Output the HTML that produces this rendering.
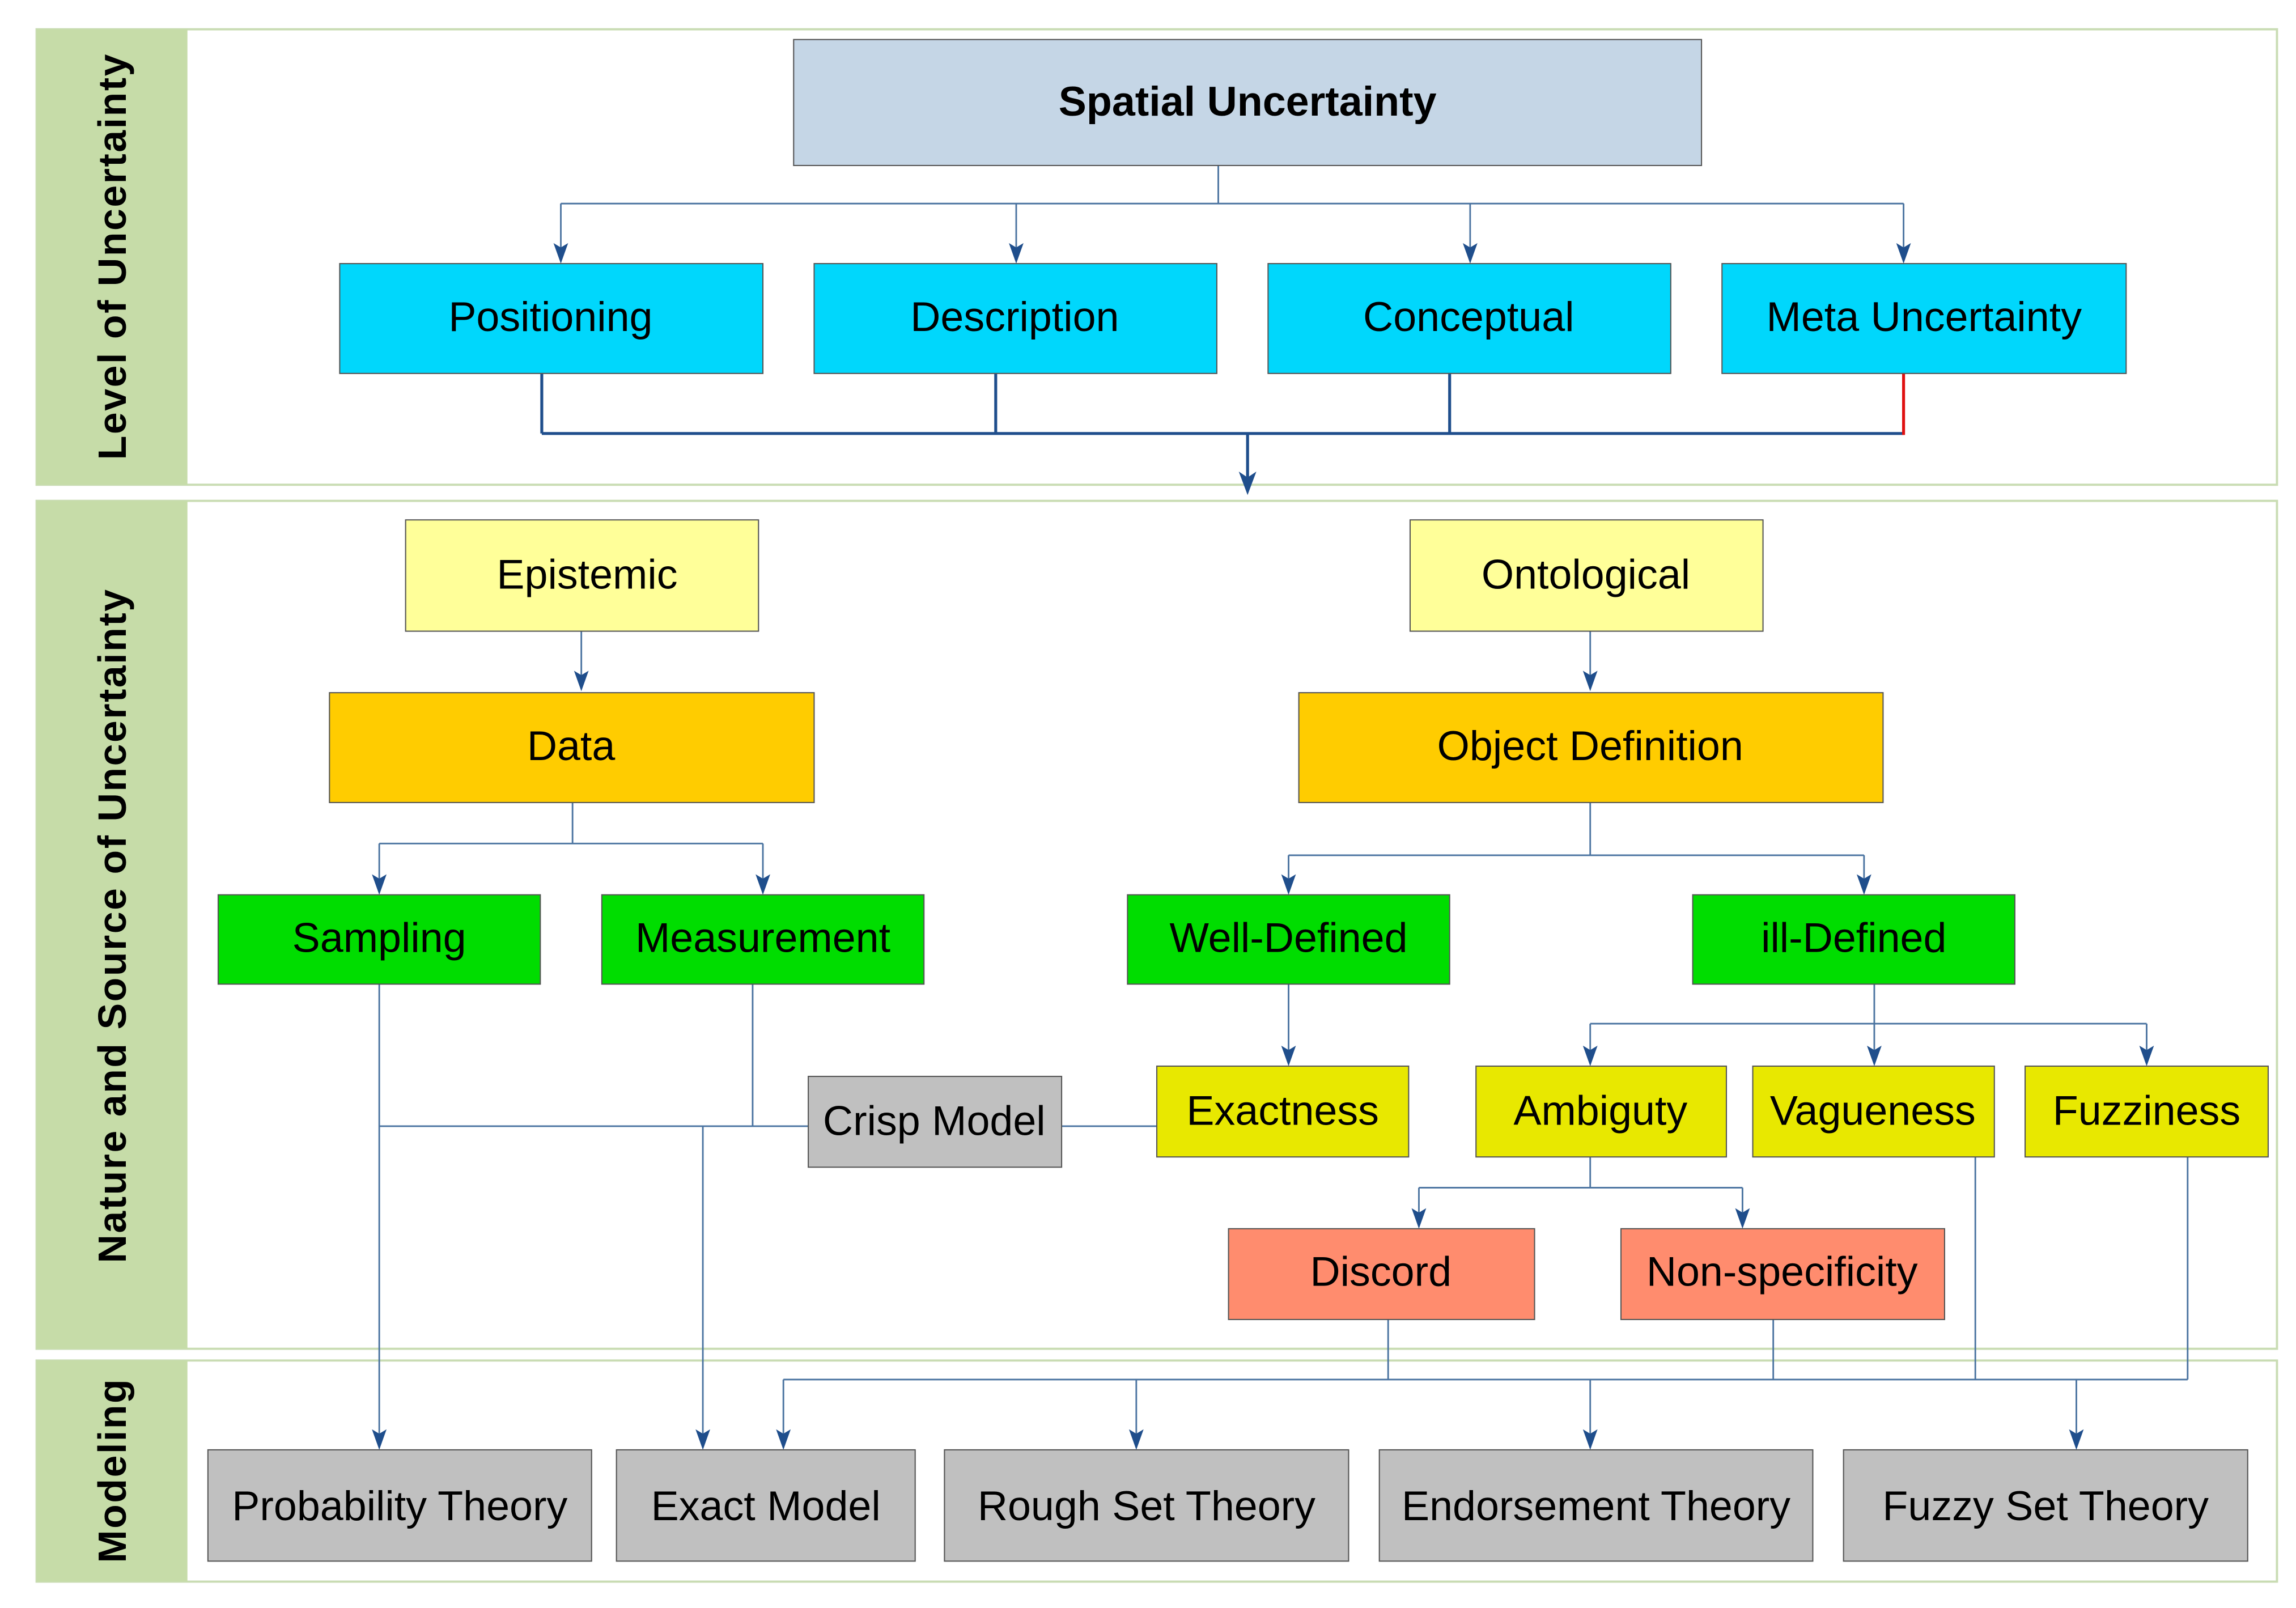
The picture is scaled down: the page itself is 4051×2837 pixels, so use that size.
<!DOCTYPE html>
<html><head><meta charset="utf-8"><style>
html,body{margin:0;padding:0;background:#fff;}
svg{display:block;}
text{font-family:"Liberation Sans",Arial,sans-serif;}
</style></head><body>
<svg width="4051" height="2837" viewBox="0 0 1568 1098" preserveAspectRatio="none" xmlns="http://www.w3.org/2000/svg">
<rect width="1568" height="1098" fill="#fff"/>
<g fill="#fff" stroke="#c9dcb3" stroke-width="1.5">
<rect x="25" y="20" width="1530" height="311"/>
<rect x="25" y="342" width="1530" height="579"/>
<rect x="25" y="929" width="1530" height="151"/>
</g>
<g fill="#c6dca8">
<rect x="25" y="20" width="103" height="311"/>
<rect x="25" y="342" width="103" height="579"/>
<rect x="25" y="929" width="103" height="151"/>
</g>
<g font-weight="bold" font-size="27" fill="#000" text-anchor="middle" letter-spacing="1">
<text transform="translate(86,175) rotate(-90)">Level of Uncertainty</text>
<text transform="translate(86,632) rotate(-90)">Nature and Source of Uncertainty</text>
<text transform="translate(86,1004) rotate(-90)">Modeling</text>
</g>
<g stroke="#4a73a0" stroke-width="1.1" fill="none">
<path d="M832,113 V139 M383,139 H1300"/>
<path d="M383,139 V170 M694,139 V170 M1004,139 V170 M1300,139 V170"/>
<path d="M397,431 V462 M1086,431 V462"/>
<path d="M391,548 V576 M259,576 H521 M1086,548 V584 M880,584 H1273"/>
<path d="M259,576 V601 M521,576 V601 M880,584 V601 M1273,584 V601"/>
<path d="M880,672 V718"/>
<path d="M1280,672 V699 M1086,699 H1466 M1086,699 V718 M1280,699 V718 M1466,699 V718"/>
<path d="M1086,790 V811 M969,811 H1190 M969,811 V829 M1190,811 V829"/>
<path d="M259,769 H552 M514,672 V769 M725,769 H790"/>
<path d="M259,672 V980 M480,769 V980"/>
<path d="M948,901 V942 M1211,901 V942 M1349,790 V942 M1494,790 V942 M535,942 H1494"/>
<path d="M535,942 V980 M776,942 V980 M1086,942 V980 M1418,942 V980"/>
</g>
<g stroke="#1f4e8c" stroke-width="2" fill="none">
<path d="M370,255 V296 M680,255 V296 M990,255 V296 M370,296 H1300 M852,296 V326"/>
</g>
<path d="M1300,255 V297" stroke="#e01010" stroke-width="2"/>
<g fill="#1f4e8c">
<path d="M378,166 L383,169 L388,166 L383,180 Z"/>
<path d="M689,166 L694,169 L699,166 L694,180 Z"/>
<path d="M999,166 L1004,169 L1009,166 L1004,180 Z"/>
<path d="M1295,166 L1300,169 L1305,166 L1300,180 Z"/>
<path d="M846,322 L852,326 L858,322 L852,338 Z"/>
<path d="M392,458 L397,461 L402,458 L397,472 Z"/>
<path d="M1081,458 L1086,461 L1091,458 L1086,472 Z"/>
<path d="M254,597 L259,600 L264,597 L259,611 Z"/>
<path d="M516,597 L521,600 L526,597 L521,611 Z"/>
<path d="M875,597 L880,600 L885,597 L880,611 Z"/>
<path d="M1268,597 L1273,600 L1278,597 L1273,611 Z"/>
<path d="M875,714 L880,717 L885,714 L880,728 Z"/>
<path d="M1081,714 L1086,717 L1091,714 L1086,728 Z"/>
<path d="M1275,714 L1280,717 L1285,714 L1280,728 Z"/>
<path d="M1461,714 L1466,717 L1471,714 L1466,728 Z"/>
<path d="M964,825 L969,828 L974,825 L969,839 Z"/>
<path d="M1185,825 L1190,828 L1195,825 L1190,839 Z"/>
<path d="M254,976 L259,979 L264,976 L259,990 Z"/>
<path d="M475,976 L480,979 L485,976 L480,990 Z"/>
<path d="M530,976 L535,979 L540,976 L535,990 Z"/>
<path d="M771,976 L776,979 L781,976 L776,990 Z"/>
<path d="M1081,976 L1086,979 L1091,976 L1086,990 Z"/>
<path d="M1413,976 L1418,979 L1423,976 L1418,990 Z"/>
</g>
<g stroke="#555" stroke-width="0.8">
<rect x="542" y="27" width="620" height="86" fill="#c5d6e6"/>
<rect x="232" y="180" width="289" height="75" fill="#00d7fc"/>
<rect x="556" y="180" width="275" height="75" fill="#00d7fc"/>
<rect x="866" y="180" width="275" height="75" fill="#00d7fc"/>
<rect x="1176" y="180" width="276" height="75" fill="#00d7fc"/>
<rect x="277" y="355" width="241" height="76" fill="#ffff99"/>
<rect x="963" y="355" width="241" height="76" fill="#ffff99"/>
<rect x="225" y="473" width="331" height="75" fill="#ffcc00"/>
<rect x="887" y="473" width="399" height="75" fill="#ffcc00"/>
<rect x="149" y="611" width="220" height="61" fill="#00dd00"/>
<rect x="411" y="611" width="220" height="61" fill="#00dd00"/>
<rect x="770" y="611" width="220" height="61" fill="#00dd00"/>
<rect x="1156" y="611" width="220" height="61" fill="#00dd00"/>
<rect x="790" y="728" width="172" height="62" fill="#e8e800"/>
<rect x="1008" y="728" width="171" height="62" fill="#e8e800"/>
<rect x="1197" y="728" width="165" height="62" fill="#e8e800"/>
<rect x="1383" y="728" width="166" height="62" fill="#e8e800"/>
<rect x="552" y="735" width="173" height="62" fill="#c0c0c0"/>
<rect x="839" y="839" width="209" height="62" fill="#ff8c6e"/>
<rect x="1107" y="839" width="221" height="62" fill="#ff8c6e"/>
<rect x="142" y="990" width="262" height="76" fill="#c0c0c0"/>
<rect x="421" y="990" width="204" height="76" fill="#c0c0c0"/>
<rect x="645" y="990" width="276" height="76" fill="#c0c0c0"/>
<rect x="942" y="990" width="296" height="76" fill="#c0c0c0"/>
<rect x="1259" y="990" width="276" height="76" fill="#c0c0c0"/>
</g>
<g font-size="28.5" fill="#000" text-anchor="middle">
<text x="852" y="79" font-weight="bold">Spatial Uncertainty</text>
<text x="376" y="226">Positioning</text>
<text x="693" y="226">Description</text>
<text x="1003" y="226">Conceptual</text>
<text x="1314" y="226">Meta Uncertainty</text>
<text x="401" y="402">Epistemic</text>
<text x="1083" y="402">Ontological</text>
<text x="390" y="519">Data</text>
<text x="1086" y="519">Object  Definition</text>
<text x="259" y="650">Sampling</text>
<text x="521" y="650">Measurement</text>
<text x="880" y="650">Well-Defined</text>
<text x="1266" y="650">ill-Defined</text>
<text x="876" y="768">Exactness</text>
<text x="1093" y="768">Ambiguty</text>
<text x="1279" y="768">Vagueness</text>
<text x="1466" y="768">Fuzziness</text>
<text x="638" y="775">Crisp Model</text>
<text x="943" y="878">Discord</text>
<text x="1217" y="878">Non-specificity</text>
<text x="273" y="1038">Probability Theory</text>
<text x="523" y="1038">Exact Model</text>
<text x="783" y="1038">Rough Set Theory</text>
<text x="1090" y="1038">Endorsement Theory</text>
<text x="1397" y="1038">Fuzzy Set Theory</text>
</g>
</svg>
</body></html>
